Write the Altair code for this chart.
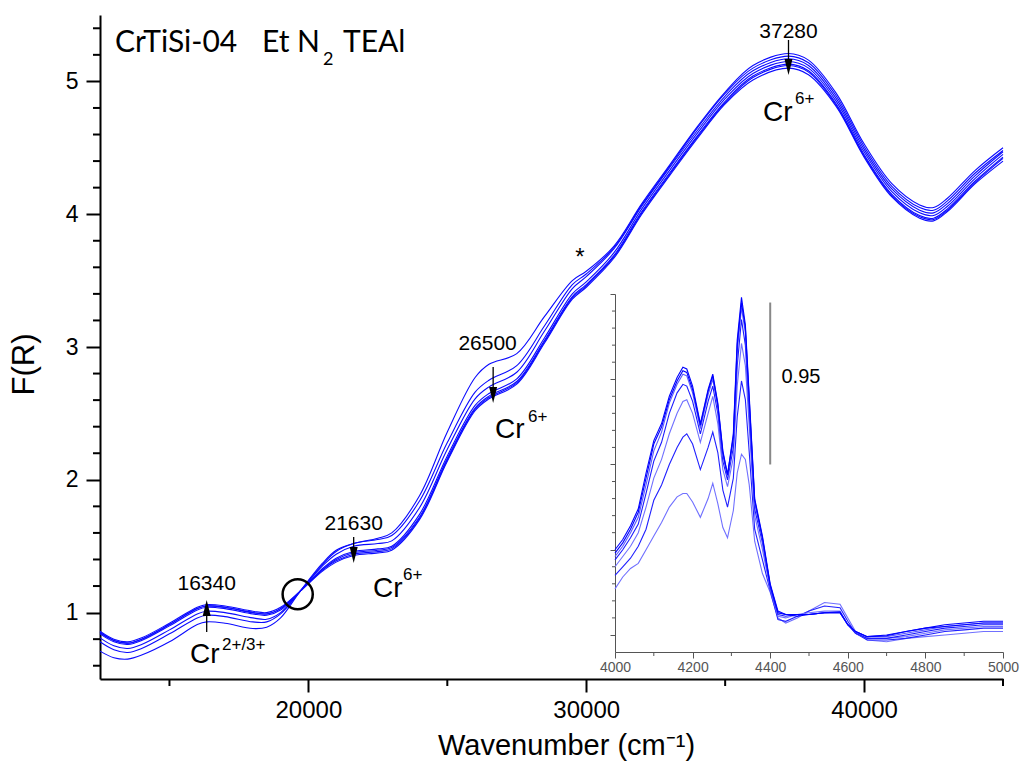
import altair as alt
import pandas as pd

# ---------------- main UV-Vis spectra ----------------
WN = [12500, 13000, 13500, 14000, 15000, 16000, 16340, 17000, 18000, 18500, 19000,
      19700, 20500, 21000, 21630, 22500, 23000, 24000, 25000, 26000, 26500, 27500,
      28500, 29500, 30000, 31000, 32000, 33000, 34000, 35000, 36000, 37280, 38000,
      39000, 40000, 41000, 42000, 42500, 43000, 44000, 45000]

S1 = [0.71, 0.66, 0.65, 0.68, 0.78, 0.91, 0.93, 0.92, 0.88, 0.89, 0.96, 1.16, 1.37, 1.47,
      1.52, 1.56, 1.60, 1.88, 2.36, 2.77, 2.87, 2.95, 3.23, 3.50, 3.57, 3.76, 4.08, 4.37,
      4.66, 4.92, 5.12, 5.21, 5.16, 4.91, 4.53, 4.23, 4.07, 4.05, 4.12, 4.33, 4.50]
S2 = [0.78, 0.72, 0.70, 0.73, 0.84, 0.96, 0.98, 0.97, 0.93, 0.93, 0.99, 1.16, 1.36, 1.46,
      1.52, 1.55, 1.58, 1.84, 2.28, 2.66, 2.75, 2.86, 3.16, 3.47, 3.55, 3.75, 4.07, 4.36,
      4.65, 4.91, 5.10, 5.19, 5.14, 4.89, 4.51, 4.21, 4.05, 4.03, 4.10, 4.31, 4.48]
S3 = [0.81, 0.75, 0.73, 0.76, 0.87, 0.99, 1.01, 1.00, 0.96, 0.95, 1.00, 1.16, 1.35, 1.44,
      1.50, 1.52, 1.54, 1.79, 2.23, 2.61, 2.70, 2.81, 3.12, 3.44, 3.53, 3.74, 4.06, 4.35,
      4.63, 4.89, 5.08, 5.17, 5.12, 4.87, 4.49, 4.19, 4.03, 4.01, 4.08, 4.29, 4.47]
S4 = [0.84, 0.78, 0.76, 0.79, 0.90, 1.02, 1.04, 1.03, 0.99, 0.98, 1.02, 1.16, 1.33, 1.41,
      1.46, 1.48, 1.50, 1.74, 2.18, 2.56, 2.65, 2.76, 3.07, 3.40, 3.49, 3.71, 4.04, 4.33,
      4.61, 4.87, 5.06, 5.15, 5.10, 4.85, 4.47, 4.17, 4.01, 3.99, 4.06, 4.27, 4.45]
S5 = [0.85, 0.79, 0.77, 0.80, 0.91, 1.03, 1.05, 1.04, 1.00, 0.99, 1.03, 1.16, 1.32, 1.40,
      1.45, 1.47, 1.49, 1.72, 2.16, 2.54, 2.63, 2.74, 3.05, 3.38, 3.47, 3.69, 4.02, 4.31,
      4.59, 4.85, 5.04, 5.13, 5.08, 4.83, 4.45, 4.15, 3.99, 3.97, 4.04, 4.25, 4.43]
S6 = [0.85, 0.79, 0.77, 0.80, 0.91, 1.03, 1.05, 1.04, 1.00, 0.99, 1.03, 1.16, 1.32, 1.39,
      1.44, 1.46, 1.48, 1.71, 2.15, 2.53, 2.62, 2.73, 3.04, 3.37, 3.46, 3.68, 4.01, 4.30,
      4.58, 4.84, 5.03, 5.12, 5.07, 4.82, 4.44, 4.14, 3.98, 3.96, 4.03, 4.24, 4.42]
S7 = [0.86, 0.80, 0.78, 0.81, 0.92, 1.04, 1.06, 1.05, 1.01, 1.00, 1.04, 1.16, 1.31, 1.38,
      1.43, 1.45, 1.47, 1.70, 2.14, 2.52, 2.61, 2.72, 3.03, 3.36, 3.45, 3.67, 4.00, 4.29,
      4.57, 4.83, 5.01, 5.10, 5.05, 4.81, 4.43, 4.13, 3.97, 3.95, 4.02, 4.23, 4.40]
MAIN_SERIES = {"s1": S1, "s2": S2, "s3": S3, "s4": S4, "s5": S5, "s6": S6, "s7": S7}

X_MAJOR = [20000, 30000, 40000]
X_MINOR = [15000, 25000, 35000, 45000]
Y_MAJOR = [1, 2, 3, 4, 5]
Y_MINOR = [0.6, 0.8, 1.2, 1.4, 1.6, 1.8, 2.2, 2.4, 2.6, 2.8, 3.2, 3.4, 3.6, 3.8,
           4.2, 4.4, 4.6, 4.8, 5.2, 5.4]

# ---------------- inset NIR spectra ----------------
IR_WN = [4000, 4020, 4040, 4060, 4080, 4100, 4120, 4140, 4160, 4175, 4185, 4200,
         4220, 4240, 4252, 4265, 4278, 4290, 4305, 4315, 4326, 4336, 4346, 4360,
         4380, 4400, 4420, 4440, 4470, 4500, 4540, 4580, 4600, 4620, 4650, 4700,
         4750, 4800, 4850, 4900, 4950, 5000]
I1 = [0.27, 0.34, 0.39, 0.42, 0.50, 0.58, 0.66, 0.75, 0.81, 0.83, 0.83, 0.78, 0.69, 0.80,
      0.89, 0.77, 0.63, 0.57, 0.73, 0.95, 1.06, 1.03, 0.88, 0.55, 0.36, 0.25, 0.10, 0.07,
      0.10, 0.14, 0.19, 0.18, 0.10, 0.02, -0.03, -0.04, -0.02, -0.01, 0.0, 0.01, 0.02, 0.02]
I2 = [0.35, 0.40, 0.45, 0.52, 0.62, 0.79, 0.88, 1.00, 1.10, 1.16, 1.18, 1.12, 0.97, 1.10,
      1.19, 1.07, 0.85, 0.75, 0.92, 1.28, 1.49, 1.38, 1.07, 0.62, 0.44, 0.26, 0.09, 0.08,
      0.11, 0.14, 0.17, 0.16, 0.08, 0.01, -0.03, -0.03, -0.02, 0.0, 0.02, 0.03, 0.04, 0.04]
I3 = [0.40, 0.46, 0.52, 0.60, 0.75, 0.92, 1.03, 1.18, 1.30, 1.37, 1.38, 1.30, 1.13, 1.30,
      1.40, 1.24, 0.97, 0.87, 1.04, 1.46, 1.71, 1.58, 1.22, 0.70, 0.50, 0.27, 0.11, 0.10,
      0.12, 0.13, 0.14, 0.14, 0.06, 0.01, -0.02, -0.02, -0.01, 0.01, 0.03, 0.04, 0.05, 0.05]
I4 = [0.44, 0.50, 0.57, 0.65, 0.83, 1.02, 1.13, 1.30, 1.42, 1.47, 1.46, 1.37, 1.18, 1.37,
      1.46, 1.30, 1.02, 0.91, 1.10, 1.58, 1.85, 1.70, 1.30, 0.74, 0.54, 0.28, 0.12, 0.11,
      0.12, 0.12, 0.13, 0.13, 0.06, 0.01, -0.02, -0.02, 0.0, 0.02, 0.04, 0.05, 0.06, 0.06]
I5 = [0.46, 0.52, 0.60, 0.69, 0.88, 1.08, 1.19, 1.36, 1.47, 1.53, 1.52, 1.42, 1.21, 1.41,
      1.50, 1.33, 1.05, 0.93, 1.14, 1.66, 1.92, 1.77, 1.35, 0.77, 0.56, 0.29, 0.13, 0.12,
      0.12, 0.12, 0.13, 0.13, 0.06, 0.02, -0.01, -0.01, 0.01, 0.03, 0.05, 0.06, 0.07, 0.07]
I6 = [0.48, 0.54, 0.62, 0.72, 0.92, 1.12, 1.22, 1.38, 1.49, 1.55, 1.54, 1.44, 1.23, 1.43,
      1.52, 1.35, 1.07, 0.94, 1.16, 1.70, 1.95, 1.80, 1.38, 0.79, 0.57, 0.29, 0.13, 0.12,
      0.12, 0.12, 0.13, 0.13, 0.06, 0.02, -0.01, 0.0, 0.02, 0.04, 0.05, 0.06, 0.07, 0.07]
I7 = [0.50, 0.56, 0.64, 0.74, 0.95, 1.14, 1.24, 1.40, 1.51, 1.57, 1.56, 1.46, 1.24, 1.44,
      1.53, 1.36, 1.08, 0.94, 1.18, 1.73, 1.98, 1.82, 1.40, 0.80, 0.58, 0.30, 0.14, 0.12,
      0.11, 0.12, 0.13, 0.135, 0.06, 0.02, -0.01, -0.005, 0.02, 0.04, 0.06, 0.07, 0.08, 0.08]
IR_SERIES = {"i1": I1, "i2": I2, "i3": I3, "i4": I4, "i5": I5, "i6": I6, "i7": I7}

IR_X_MAJOR = [4000, 4200, 4400, 4600, 4800, 5000]
IR_X_MINOR = [4100, 4300, 4500, 4700, 4900]
IR_Y_MAJOR = [0, 0.5, 1.0, 1.5, 2.0]
IR_Y_MINOR = [0.1, 0.2, 0.3, 0.4, 0.6, 0.7, 0.8, 0.9, 1.1, 1.2, 1.3, 1.4,
              1.6, 1.7, 1.8, 1.9]
SCALE_BAR = [1.0, 1.95]

# annotations
PEAKS = [16340, 21630, 26500, 37280]
ISOSBESTIC = (19615, 1.138)
STAR = (29775, 3.62)

W, H = 903, 664
FONT = "Liberation Sans"


def xs():
    return alt.Scale(domain=[12500, 45000], nice=False, zero=False)


def ys():
    return alt.Scale(domain=[0.5, 5.5], nice=False, zero=False)


main_df = pd.DataFrame(
    [{"wn": w, "fr": v, "series": k} for k, vals in MAIN_SERIES.items() for w, v in zip(WN, vals)]
)

main_lines = alt.Chart(main_df).mark_line(strokeWidth=1.1, interpolate="catmull-rom", color="#0a0aff").encode(
    x=alt.X("wn:Q", scale=xs(), axis=alt.Axis(
        values=X_MAJOR, orient="bottom", format="d", tickSize=13, tickWidth=2, tickColor="black",
        domainColor="black", domainWidth=2, labelFont=FONT, labelFontSize=24,
        labelColor="black", labelPadding=6, labelFlush=False, grid=False,
        title="Wavenumber (cm⁻¹)", titleFont=FONT, titleFontSize=29,
        titleFontWeight="normal", titleColor="black", titleX=466, titleY=75,
        titleBaseline="alphabetic")),
    y=alt.Y("fr:Q", scale=ys(), axis=alt.Axis(
        values=Y_MAJOR, orient="left", format="d", tickSize=14, tickWidth=2, tickColor="black",
        domainColor="black", domainWidth=2, labelFont=FONT, labelFontSize=23,
        labelColor="black", labelPadding=8, grid=False,
        title="F(R)", titleFont=FONT, titleFontSize=31, titleFontWeight="normal",
        titleColor="black", titleX=-60, titleY=349, titleAngle=270)),
    detail="series:N",
)

ymin = alt.Chart(pd.DataFrame({"fr": Y_MINOR})).mark_rule(color="black", strokeWidth=2).encode(
    y=alt.Y("fr:Q", scale=ys(), axis=None), x=alt.value(-7), x2=alt.value(0))
xmin = alt.Chart(pd.DataFrame({"wn": X_MINOR})).mark_rule(color="black", strokeWidth=2).encode(
    x=alt.X("wn:Q", scale=xs(), axis=None), y=alt.value(H), y2=alt.value(H + 7))


def txt(text, wn, fr, size, align="center", font=FONT, color="black"):
    return alt.Chart(pd.DataFrame({"t": [text], "wn": [wn], "fr": [fr]})).mark_text(
        font=font, fontSize=size, align=align, baseline="alphabetic", color=color
    ).encode(x=alt.X("wn:Q", scale=xs(), axis=None), y=alt.Y("fr:Q", scale=ys(), axis=None), text="t:N")


def arrow(wn, top, bottom, head, up):
    rule = alt.Chart(pd.DataFrame({"wn": [wn], "a": [top], "b": [bottom]})).mark_rule(
        color="black", strokeWidth=1.3).encode(
        x=alt.X("wn:Q", scale=xs(), axis=None), y=alt.Y("a:Q", scale=ys(), axis=None), y2="b:Q")
    shape = "M0,-1L0.5,1L-0.5,1Z" if up else "M0,1L0.5,-1L-0.5,-1Z"
    hd = alt.Chart(pd.DataFrame({"wn": [wn], "fr": [head]})).mark_point(
        shape=shape, size=256, filled=True, color="black", opacity=1).encode(
        x=alt.X("wn:Q", scale=xs(), axis=None), y=alt.Y("fr:Q", scale=ys(), axis=None))
    return [rule, hd]


ann = []
# title
ann.append(txt("CrTiSi-04", 13040, 5.221, 30, "left", "Lato"))
ann.append(txt("Et N", 18330, 5.221, 30, "left", "Lato"))
ann.append(txt("2", 20526, 5.123, 18, "left", "Lato"))
ann.append(txt("TEAl", 21246, 5.221, 30, "left", "Lato"))
# 16340
ann.append(txt(str(PEAKS[0]), PEAKS[0], 1.17, 21))
ann += arrow(PEAKS[0], 0.854, 1.035, 1.035, True)
ann.append(txt("Cr", 15739, 0.62, 28, "left"))
ann.append(txt("2+/3+", 16891, 0.718, 17, "left"))
# 21630
ann.append(txt(str(PEAKS[1]), PEAKS[1], 1.62, 21))
ann += arrow(PEAKS[1], 1.569, 1.434, 1.434, False)
ann.append(txt("Cr", 22325, 1.117, 28, "left"))
ann.append(txt("6+", 23405, 1.245, 17, "left"))
# 26500
ann.append(txt(str(PEAKS[2]), 26450, 2.977, 21))
ann += arrow(26650, 2.849, 2.639, 2.639, False)
ann.append(txt("Cr", 26716, 2.315, 28, "left"))
ann.append(txt("6+", 27904, 2.435, 17, "left"))
# 37280
ann.append(txt(str(PEAKS[3]), PEAKS[3], 5.327, 21))
ann += arrow(PEAKS[3], 5.312, 5.108, 5.108, False)
ann.append(txt("Cr", 36362, 4.704, 28, "left"))
ann.append(txt("6+", 37514, 4.83, 17, "left"))
# star
ann.append(txt("*", STAR[0], STAR[1], 24))
# isosbestic circle
circ = alt.Chart(pd.DataFrame({"wn": [ISOSBESTIC[0]], "fr": [ISOSBESTIC[1]]})).mark_point(
    shape="circle", size=908, filled=False, stroke="black", strokeWidth=2.5, opacity=1).encode(
    x=alt.X("wn:Q", scale=xs(), axis=None), y=alt.Y("fr:Q", scale=ys(), axis=None))

# ---------------- inset ----------------
IL, IR_, IT, IB = 515, 903, 279, 637
GREY = "#555555"


def ixs():
    return alt.Scale(domain=[4000, 5000], range=[IL, IR_], nice=False, zero=False)


def iys():
    return alt.Scale(domain=[-0.1, 2.0], range=[IB, IT], nice=False, zero=False)


ir_df = pd.DataFrame(
    [{"wn": w, "a": v, "series": k} for k, vals in IR_SERIES.items() for w, v in zip(IR_WN, vals)]
)
ir_lines = alt.Chart(ir_df).mark_line(strokeWidth=1.1).encode(
    x=alt.X("wn:Q", scale=ixs(), axis=alt.Axis(
        values=IR_X_MAJOR, orient="bottom", offset=-(H - IB), format="d", tickSize=6,
        tickColor=GREY, domainColor=GREY, domainWidth=1, labelFont=FONT, labelFontSize=14,
        labelColor=GREY, labelPadding=2, labelFlush=False, grid=False, title=None)),
    y=alt.Y("a:Q", scale=iys(), axis=alt.Axis(
        values=IR_Y_MAJOR, orient="left", offset=-IL, tickSize=5, tickColor=GREY,
        domainColor=GREY, domainWidth=1, labels=False, grid=False, title=None)),
    color=alt.Color("series:N", legend=None, scale=alt.Scale(
        domain=list(IR_SERIES.keys()),
        range=["#7070ff", "#2020ff", "#7070ff", "#1a1aff", "#5a5aff", "#0000ff", "#0000ff"])),
)
ir_xmin = alt.Chart(pd.DataFrame({"wn": IR_X_MINOR})).mark_rule(color=GREY, strokeWidth=1).encode(
    x=alt.X("wn:Q", scale=ixs(), axis=None), y=alt.value(IB), y2=alt.value(IB + 4))
ir_ymin = alt.Chart(pd.DataFrame({"a": IR_Y_MINOR})).mark_rule(color=GREY, strokeWidth=1).encode(
    y=alt.Y("a:Q", scale=iys(), axis=None), x=alt.value(IL - 3), x2=alt.value(IL))
bar = alt.Chart(pd.DataFrame({"wn": [4400], "a": [SCALE_BAR[0]], "b": [SCALE_BAR[1]]})).mark_rule(
    color="#888888", strokeWidth=2).encode(
    x=alt.X("wn:Q", scale=ixs(), axis=None), y=alt.Y("a:Q", scale=iys(), axis=None), y2="b:Q")
bar_lbl = alt.Chart(pd.DataFrame({"wn": [4429], "a": [1.478], "t": ["0.95"]})).mark_text(
    font=FONT, fontSize=20, align="left", baseline="alphabetic", color="black").encode(
    x=alt.X("wn:Q", scale=ixs(), axis=None), y=alt.Y("a:Q", scale=iys(), axis=None), text="t:N")

chart = alt.layer(
    main_lines, ymin, xmin, circ, *ann, ir_lines, ir_xmin, ir_ymin, bar, bar_lbl
).resolve_scale(
    x="independent", y="independent", color="independent"
).properties(
    width=W, height=H,
    autosize=alt.AutoSizeParams(type="none"),
    padding={"left": 100, "top": 15, "right": 17, "bottom": 84},
    background="white",
).configure_view(stroke=None).configure_axis(grid=False)

chart.save("out.html", embed_options={"renderer": "svg", "actions": False})
